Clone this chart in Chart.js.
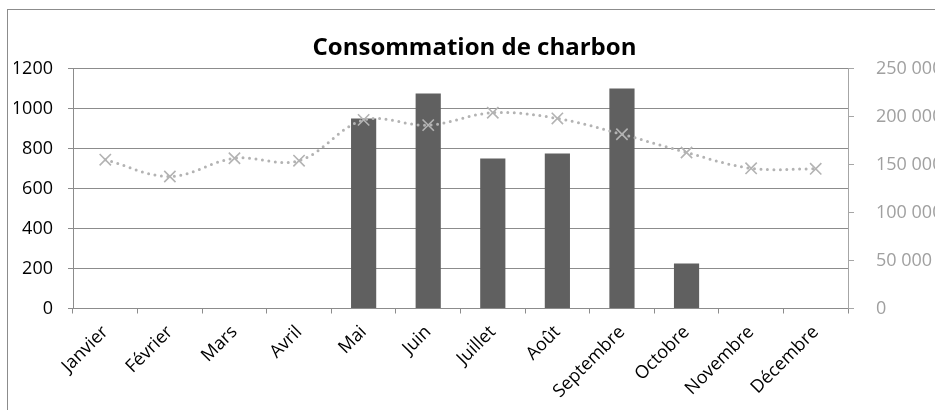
<!DOCTYPE html>
<html>
<head>
<meta charset="utf-8">
<script src="https://cdn.jsdelivr.net/npm/chart.js@4/dist/chart.umd.min.js"></script>
<style>
  html, body { margin: 0; padding: 0; background: #fff; overflow: hidden; }
  #wrap { position: relative; width: 935px; height: 410px; }
</style>
</head>
<body>
<div id="wrap"><canvas id="c" width="935" height="410"></canvas></div>
<script>
const months = ['Janvier','Février','Mars','Avril','Mai','Juin','Juillet','Août','Septembre','Octobre','Novembre','Décembre'];
const barValues = [null, null, null, null, 950, 1075, 750, 775, 1100, 225, null, null];
const lineValues = [155000, 137500, 156500, 154000, 196500, 191000, 204000, 198000, 181500, 162500, 146000, 145500];
const leftTicks = [0, 200, 400, 600, 800, 1000, 1200];
const rightTicks = [0, 50000, 100000, 150000, 200000, 250000];
const titleText = 'Consommation de charbon';

const FONT = "'Open Sans', 'DejaVu Sans', sans-serif";
const fmt = v => String(v).replace(/\B(?=(\d{3})+(?!\d))/g, ' ');

const borderPlugin = {
  id: 'outerBorder',
  beforeDraw(chart) {
    const ctx = chart.ctx;
    ctx.save();
    ctx.fillStyle = '#fff';
    ctx.fillRect(0, 0, chart.width, chart.height);
    ctx.strokeStyle = '#8c8c8c';
    ctx.lineWidth = 1;
    ctx.strokeRect(7.5, 9.5, 1000, 1000);
    ctx.restore();
  }
};

new Chart(document.getElementById('c'), {
  data: {
    labels: months,
    datasets: [
      {
        type: 'line',
        data: lineValues,
        yAxisID: 'y2',
        order: 0,
        borderColor: '#b3b3b3',
        borderWidth: 3,
        borderDash: [0, 6.5],
        borderCapStyle: 'round',
        tension: 0.35,
        pointStyle: 'crossRot',
        pointRadius: 8,
        pointBorderWidth: 1.6,
        pointBorderColor: '#b3b3b3',
        pointBackgroundColor: '#b3b3b3',
        fill: false
      },
      {
        type: 'bar',
        data: barValues,
        yAxisID: 'y',
        order: 1,
        backgroundColor: '#606060',
        borderWidth: 0,
        categoryPercentage: 1,
        barPercentage: 0.39
      }
    ]
  },
  options: {
    responsive: false,
    animation: false,
    layout: { padding: { left: 14, right: 0, top: 9, bottom: 0 } },
    plugins: {
      legend: { display: false },
      tooltip: { enabled: false },
      title: {
        display: true,
        text: titleText,
        color: '#000',
        font: { family: FONT, size: 24, weight: 'bold', lineHeight: 1.2 },
        padding: { top: 25, bottom: 5.7 }
      }
    },
    scales: {
      x: {
        type: 'category',
        offset: true,
        grid: { offset: true, drawOnChartArea: false, drawTicks: true, tickLength: 5, color: '#8c8c8c' },
        border: { display: true, color: '#8c8c8c', width: 1 },
        ticks: {
          color: '#000',
          font: { family: FONT, size: 18 },
          autoSkip: false,
          maxRotation: 45,
          minRotation: 45,
          padding: 8
        },
        afterFit(s) { s.height = 101.5; }
      },
      y: {
        position: 'left',
        min: 0, max: 1200,
        afterBuildTicks(s) { s.ticks = leftTicks.map(v => ({ value: v })); },
        grid: { color: '#8c8c8c', lineWidth: 1, drawTicks: true, tickLength: 5 },
        border: { display: true, color: '#8c8c8c', width: 1 },
        ticks: { color: '#000', font: { family: FONT, size: 18 }, padding: 15, callback: v => String(v) },
        afterFit(s) { s.width = 59; }
      },
      y2: {
        position: 'right',
        min: 0, max: 250000,
        afterBuildTicks(s) { s.ticks = rightTicks.map(v => ({ value: v })); },
        grid: { drawOnChartArea: false, drawTicks: true, tickLength: 6, color: '#a6a6a6' },
        border: { display: true, color: '#a6a6a6', width: 1 },
        ticks: { color: '#a0a0a0', font: { family: FONT, size: 18 }, padding: 22, callback: v => fmt(v) },
        afterFit(s) { s.width = 87; }
      }
    }
  },
  plugins: [borderPlugin]
});
</script>
</body>
</html>
